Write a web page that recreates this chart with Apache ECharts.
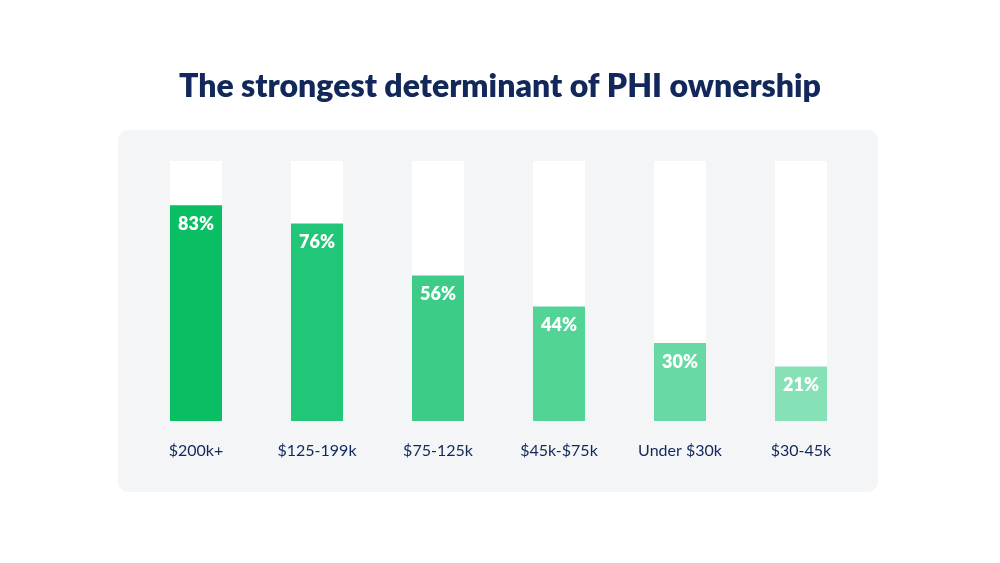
<!DOCTYPE html>
<html><head><meta charset="utf-8">
<script src="https://cdn.jsdelivr.net/npm/echarts@6/dist/echarts.min.js"></script>
<style>html,body{margin:0;padding:0;background:#fff}#c{width:1000px;height:563px}</style>
</head><body><div id="c"></div>
<script>
const categories = ["$200k+", "$125-199k", "$75-125k", "$45k-$75k", "Under $30k", "$30-45k"];
const values = [83, 76, 56, 44, 30, 21];
const barColors = ["#0abf63", "#22c679", "#3ccc88", "#52d497", "#68d9a5", "#86e1b6"];
const chart = echarts.init(document.getElementById('c'));
chart.setOption({
  backgroundColor: '#ffffff',
  animation: false,
  title: { text: 'The strongest determinant of PHI ownership', left: 'center', top: 66,
    textStyle: { color: '#13285a', fontSize: 32, fontWeight: 800, fontFamily: 'Lato' } },
  graphic: [{ type: 'rect', z: -10, shape: { x: 118, y: 130, width: 760, height: 362, r: 10 }, style: { fill: '#f3f5f7' } }],
  grid: { left: 135.5, right: 138.5, top: 161, bottom: 142 },
  xAxis: { type: 'category', data: categories, axisLine: { show: false }, axisTick: { show: false },
    axisLabel: { color: '#13285a', fontSize: 16, fontFamily: 'Lato', margin: 22 } },
  yAxis: { type: 'value', min: 0, max: 100, show: false },
  series: [{
    type: 'bar', barWidth: 52,
    showBackground: true, backgroundStyle: { color: '#ffffff' },
    data: values.map((v, i) => ({ value: v, itemStyle: { color: barColors[i] } })),
    label: { show: true, position: 'insideTop', distance: 10, formatter: '{c}%', color: '#fff',
      fontSize: 18, fontWeight: 800, fontFamily: 'Lato' }
  }]
});
</script></body></html>
